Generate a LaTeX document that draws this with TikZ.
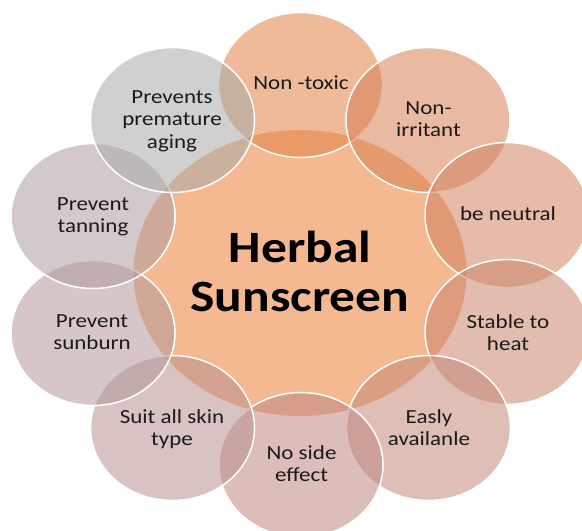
\documentclass[tikz,border=0pt]{standalone}
\usepackage{fontspec}
\usepackage{graphicx}
\setmainfont{Carlito}
\usetikzlibrary{shapes.geometric}
\newcommand\sqtext[1]{\scalebox{1}[0.87]{\begin{tabular}[t]{@{}c@{}}#1\end{tabular}}}
\definecolor{centerc}{RGB}{244,185,145}
\definecolor{ca}{RGB}{226,130,70}
\definecolor{cb}{RGB}{216,127,84}
\definecolor{cc}{RGB}{209,131,97}
\definecolor{cd}{RGB}{203,133,108}
\definecolor{ce}{RGB}{197,138,121}
\definecolor{cf}{RGB}{191,135,130}
\definecolor{cg}{RGB}{184,146,144}
\definecolor{ch}{RGB}{180,151,153}
\definecolor{ci}{RGB}{175,155,159}
\definecolor{cj}{RGB}{170,170,170}
\definecolor{txt}{RGB}{26,26,26}
\tikzset{
  bubble/.style={ellipse, minimum width=164pt, minimum height=145pt, inner sep=0pt,
    draw=white, line width=1.5pt, fill=#1, fill opacity=0.55},
  hub/.style={ellipse, minimum width=333pt, minimum height=286pt, inner sep=0pt, fill=centerc},
  label/.style={anchor=base, inner sep=0pt, text=txt, font=\fontsize{23}{26.4}\selectfont},
  hubtext/.style={anchor=base, inner sep=0pt, text=black, font=\bfseries\fontsize{51.5}{56}\selectfont}
}
\begin{document}
\begin{tikzpicture}[x=1pt,y=-1pt]
\useasboundingbox (0,0) rectangle (582,531);
\node[hub] (hub) at (300,273) {};
\node[bubble=ca] (c0) at (300.5,85) {};
\node[bubble=cb] (c1) at (428,120) {};
\node[bubble=cc] (c2) at (507,215) {};
\node[bubble=cd] (c3) at (507,332) {};
\node[bubble=ce] (c4) at (428.5,428) {};
\node[bubble=cf] (c5) at (301,465) {};
\node[bubble=cg] (c6) at (172.5,428) {};
\node[bubble=ch] (c7) at (93,333) {};
\node[bubble=ci] (c8) at (93,216) {};
\node[bubble=cj] (c9) at (172.5,120) {};
\node[hubtext] (ht) at (300,262.5) {\sqtext{Herbal\\Sunscreen}};
\node[label] (t0) at (301,89) {\sqtext{Non -toxic}};
\node[label] (t1) at (428.5,114) {\sqtext{Non-\\irritant}};
\node[label] (t2) at (508,220) {\sqtext{be neutral}};
\node[label] (t3) at (508,328) {\sqtext{Stable to\\heat}};
\node[label] (t4) at (429,423) {\sqtext{Easly\\availanle}};
\node[label] (t5) at (301.5,459) {\sqtext{No side\\effect}};
\node[label] (t6) at (172,423) {\sqtext{Suit all skin\\type}};
\node[label] (t7) at (92,327) {\sqtext{Prevent\\sunburn}};
\node[label] (t8) at (93,210) {\sqtext{Prevent\\tanning}};
\node[label] (t9) at (172,103) {\sqtext{Prevents\\premature\\aging}};
\end{tikzpicture}
\end{document}
